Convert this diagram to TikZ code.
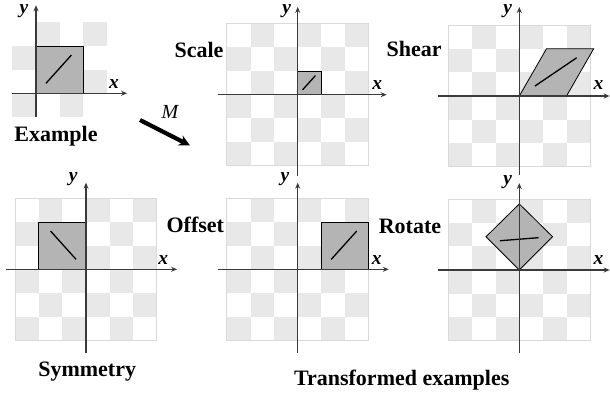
\documentclass[tikz,border=0pt]{standalone}
\usepackage{fontspec}
\setmainfont{Liberation Serif}
\usetikzlibrary{arrows.meta}
\definecolor{cellgray}{HTML}{E8E8E8}
\definecolor{gridedge}{HTML}{DADADA}
\definecolor{shapefill}{HTML}{B4B4B4}
\definecolor{axiscol}{HTML}{3A3A3A}
\newcommand\mychecks[4]{%
  \foreach \i in {#1,...,#2}{\foreach \j in {#3,...,#4}{%
    \pgfmathtruncatemacro\kk{\i+\j+10}%
    \ifodd\kk\relax\else\fill[cellgray] (\i,\j) rectangle ++(1,1);\fi}}}
\begin{document}
\begin{tikzpicture}[x=1pt,y=-1pt,
  cellunit/.style={x=23.6pt,y=23.6pt},
  border/.style={draw=gridedge,line width=0.9pt},
  shapebox/.style={fill=shapefill,draw=black,line width=0.8pt},
  seg/.style={draw=black,line width=1.3pt},
  axis/.style={draw=axiscol,line width=1.3pt,-{Stealth[length=6pt,width=5pt]}},
  axlabel/.style={font=\fontsize{19.5}{22}\selectfont\bfseries\itshape,inner sep=0pt},
  title/.style={font=\fontsize{22}{24}\selectfont\bfseries,inner sep=0pt,anchor=base}]
\useasboundingbox (0,0) rectangle (610,396);
% ---------- Example ----------
\begin{scope}[shift={(36,93.3)},cellunit]
  \mychecks{-1}{2}{-1}{2}
  \draw[shapebox] (0,0) rectangle (2,2);
  \draw[seg] (0.42,0.42) -- (1.5,1.62);
  \coordinate (exL) at (-1,0); \coordinate (exR) at (3.86,0);
  \coordinate (exB) at (0,-1); \coordinate (exT) at (0,3.73);
  \draw[axis] (exL) -- (exR);
  \draw[axis] (exB) -- (exT);
  \node[axlabel] (exx) at (3.30,0.40) {x};
  \node[axlabel] (exy) at (-0.51,3.50) {y};
\end{scope}
\node[title] (lexample) at (56,141.7) {Example};
% ---------- Scale ----------
\begin{scope}[shift={(297.7,94.7)},cellunit]
  \mychecks{-3}{2}{-3}{2}
  \draw[border] (-3,-3) rectangle (3,3);
  \draw[shapebox] (0,0) rectangle (1,1);
  \draw[seg] (0.21,0.21) -- (0.75,0.81);
  \coordinate (scL) at (-3.39,0); \coordinate (scR) at (3.77,0);
  \coordinate (scB) at (0,-3.44); \coordinate (scT) at (0,3.72);
  \draw[axis] (scL) -- (scR);
  \draw[axis] (scB) -- (scT);
  \node[axlabel] (scx) at (3.37,0.41) {x};
  \node[axlabel] (scy) at (-0.47,3.56) {y};
\end{scope}
\node[title] (lscale) at (199,57.3) {Scale};
% ---------- Shear ----------
\begin{scope}[shift={(519.3,96)},cellunit]
  \mychecks{-3}{2}{-3}{2}
  \draw[border] (-3,-3) rectangle (3,3);
  \draw[shapebox] (0,0) -- (2,0) -- (3.15,2) -- (1.15,2) -- cycle;
  \draw[seg] (0.66,0.42) -- (2.43,1.62);
  \coordinate (shL) at (-3.43,0); \coordinate (shR) at (3.83,0);
  \coordinate (shB) at (0,-3.35); \coordinate (shT) at (0,3.77);
  \draw[axis] (shL) -- (shR);
  \draw[axis] (shB) -- (shT);
  \node[axlabel] (shx) at (3.36,0.46) {x};
  \node[axlabel] (shy) at (-0.49,3.61) {y};
\end{scope}
\node[title] (lshear) at (414.2,56.7) {Shear};
% ---------- M arrow ----------
\coordinate (mA) at (140,120);
\coordinate (mB) at (190,145.5);
\draw[line width=4.2pt,-{Stealth[length=11pt,width=11pt]}] (mA) -- (mB);
\node[font=\fontsize{20}{22}\selectfont\itshape,inner sep=0pt] (mlabel) at (170,111.7) {M};
% ---------- Symmetry ----------
\begin{scope}[shift={(86,269.3)},cellunit]
  \mychecks{-3}{2}{-3}{2}
  \draw[border] (-3,-3) rectangle (3,3);
  \draw[shapebox] (-2,0) rectangle (0,2);
  \draw[seg] (-0.42,0.42) -- (-1.5,1.62);
  \coordinate (syL) at (-3.39,0); \coordinate (syR) at (3.86,0);
  \coordinate (syB) at (0,-3.53); \coordinate (syT) at (0,3.67);
  \draw[axis] (syL) -- (syR);
  \draw[axis] (syB) -- (syT);
  \node[axlabel] (syx) at (3.27,0.39) {x};
  \node[axlabel] (syy) at (-0.54,3.80) {y};
\end{scope}
\node[title] (lsym) at (87.2,376.7) {Symmetry};
% ---------- Offset ----------
\begin{scope}[shift={(297.7,269.3)},cellunit]
  \mychecks{-3}{2}{-3}{2}
  \draw[border] (-3,-3) rectangle (3,3);
  \draw[shapebox] (1,0) rectangle (3,2);
  \draw[seg] (1.42,0.42) -- (2.5,1.62);
  \coordinate (ofL) at (-3.39,0); \coordinate (ofR) at (3.86,0);
  \coordinate (ofB) at (0,-3.53); \coordinate (ofT) at (0,3.67);
  \draw[axis] (ofL) -- (ofR);
  \draw[axis] (ofB) -- (ofT);
  \node[axlabel] (ofx) at (3.35,0.39) {x};
  \node[axlabel] (ofy) at (-0.54,3.80) {y};
\end{scope}
\node[title] (loffset) at (195.3,232.7) {Offset};
% ---------- Rotate ----------
\begin{scope}[shift={(519.3,270)},cellunit]
  \mychecks{-3}{2}{-3}{2}
  \draw[border] (-3,-3) rectangle (3,3);
  \draw[shapebox] (0,0) -- (1.41,1.41) -- (0,2.80) -- (-1.41,1.41) -- cycle;
  \draw[seg] (-0.82,1.24) -- (0.82,1.37);
  \coordinate (roL) at (-3.43,0); \coordinate (roR) at (3.83,0);
  \coordinate (roB) at (0,-3.53); \coordinate (roT) at (0,3.68);
  \draw[axis] (roL) -- (roR);
  \draw[axis] (roB) -- (roT);
  \node[axlabel] (rox) at (3.36,0.42) {x};
  \node[axlabel] (roy) at (-0.49,3.73) {y};
\end{scope}
\node[title] (lrotate) at (410,233.3) {Rotate};
\node[title] (ltrans) at (401.7,385) {Transformed examples};
\end{tikzpicture}
\end{document}
